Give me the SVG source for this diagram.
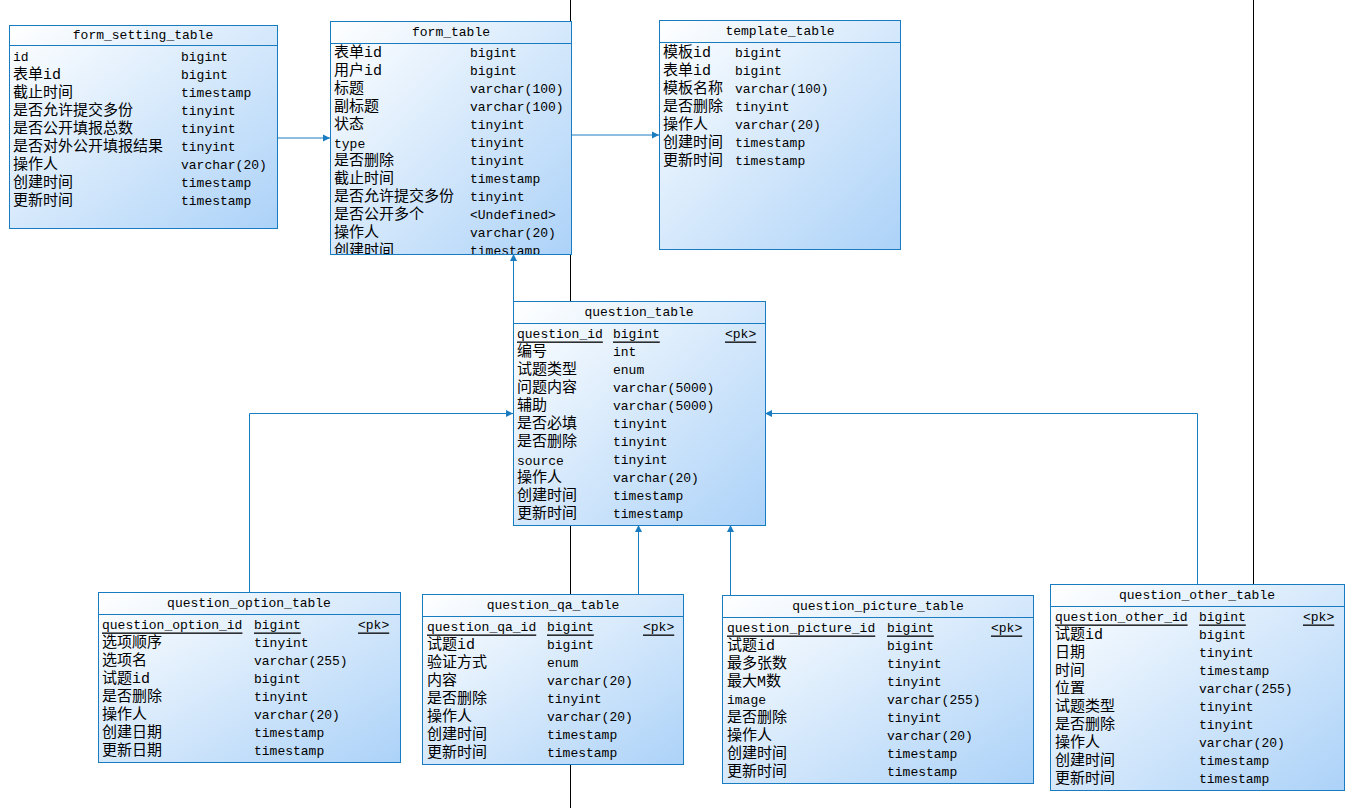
<svg xmlns="http://www.w3.org/2000/svg" width="1365" height="808" viewBox="0 0 1365 808">
<style>
.t{fill:url(#g);stroke:#1a7cc0;stroke-width:1}
.s{stroke:#1a7cc0;stroke-width:1}
text{font-family:"Liberation Mono","Noto Sans CJK SC",monospace;font-size:13px;fill:#000;dominant-baseline:central}
.c{font-size:15px}
.h{text-anchor:middle}
.u{text-decoration:underline}
.e{stroke:#1a7cc0;stroke-width:1;fill:none;marker-end:url(#a)}
</style>
<defs>
<linearGradient id="g" x1="0" y1="0" x2="1" y2="1"><stop offset="0" stop-color="#ffffff"/><stop offset="1" stop-color="#acd2f8"/></linearGradient>
<marker id="a" viewBox="0 0 10 10" refX="10" refY="5" markerWidth="7" markerHeight="9" orient="auto" markerUnits="userSpaceOnUse"><path d="M0,0L10,5L0,10z" fill="#1a7cc0"/></marker>
<clipPath id="cf"><rect x="330" y="21" width="241" height="233"/></clipPath>
</defs>
<rect width="1365" height="808" fill="#fff"/>
<g id="bg-lines" stroke="#000">
<line x1="570.5" y1="0" x2="570.5" y2="808"/>
<line x1="1253.5" y1="0" x2="1253.5" y2="584"/>
</g>
<g id="connectors">
<path class="e" d="M277,138H330"/>
<path class="e" d="M571,135H659"/>
<path class="e" d="M513.5,301V254"/>
<path class="e" d="M249.5,592V413.5H513"/>
<path class="e" d="M638.5,594V525"/>
<path class="e" d="M730.5,595V525"/>
<path class="e" d="M1197.5,584V413.5H765"/>
</g>
<g id="form_setting_table">
<rect class="t" x="9.5" y="25.5" width="268" height="203"/><line class="s" x1="9.5" y1="45.5" x2="277.5" y2="45.5"/>
<text class="h" x="143" y="35">form_setting_table</text>
<text x="13" y="57">id</text><text x="181" y="57">bigint</text>
<text class="c" x="13" y="75">表单id</text><text x="181" y="75">bigint</text>
<text class="c" x="13" y="93">截止时间</text><text x="181" y="93">timestamp</text>
<text class="c" x="13" y="111">是否允许提交多份</text><text x="181" y="111">tinyint</text>
<text class="c" x="13" y="129">是否公开填报总数</text><text x="181" y="129">tinyint</text>
<text class="c" x="13" y="147">是否对外公开填报结果</text><text x="181" y="147">tinyint</text>
<text class="c" x="13" y="165">操作人</text><text x="181" y="165">varchar(20)</text>
<text class="c" x="13" y="183">创建时间</text><text x="181" y="183">timestamp</text>
<text class="c" x="13" y="201">更新时间</text><text x="181" y="201">timestamp</text>
</g>
<g id="form_table">
<rect class="t" x="330.5" y="21.5" width="241" height="233"/><line class="s" x1="330.5" y1="43.5" x2="571.5" y2="43.5"/>
<text class="h" x="451" y="32">form_table</text>
<g clip-path="url(#cf)">
<text class="c" x="334" y="53">表单id</text><text x="470" y="53">bigint</text>
<text class="c" x="334" y="71">用户id</text><text x="470" y="71">bigint</text>
<text class="c" x="334" y="89">标题</text><text x="470" y="89">varchar(100)</text>
<text class="c" x="334" y="107">副标题</text><text x="470" y="107">varchar(100)</text>
<text class="c" x="334" y="125">状态</text><text x="470" y="125">tinyint</text>
<text x="334" y="144">type</text><text x="470" y="143">tinyint</text>
<text class="c" x="334" y="161">是否删除</text><text x="470" y="161">tinyint</text>
<text class="c" x="334" y="179">截止时间</text><text x="470" y="179">timestamp</text>
<text class="c" x="334" y="197">是否允许提交多份</text><text x="470" y="197">tinyint</text>
<text class="c" x="334" y="215">是否公开多个</text><text x="470" y="215">&lt;Undefined&gt;</text>
<text class="c" x="334" y="233">操作人</text><text x="470" y="233">varchar(20)</text>
<text class="c" x="334" y="251">创建时间</text><text x="470" y="251">timestamp</text>
</g>
</g>
<g id="template_table">
<rect class="t" x="659.5" y="20.5" width="241" height="229"/><line class="s" x1="659.5" y1="42.5" x2="900.5" y2="42.5"/>
<text class="h" x="780" y="31">template_table</text>
<text class="c" x="663" y="53">模板id</text><text x="735" y="53">bigint</text>
<text class="c" x="663" y="71">表单id</text><text x="735" y="71">bigint</text>
<text class="c" x="663" y="89">模板名称</text><text x="735" y="89">varchar(100)</text>
<text class="c" x="663" y="107">是否删除</text><text x="735" y="107">tinyint</text>
<text class="c" x="663" y="125">操作人</text><text x="735" y="125">varchar(20)</text>
<text class="c" x="663" y="143">创建时间</text><text x="735" y="143">timestamp</text>
<text class="c" x="663" y="161">更新时间</text><text x="735" y="161">timestamp</text>
</g>
<g id="question_table">
<rect class="t" x="513.5" y="301.5" width="252" height="224"/><line class="s" x1="513.5" y1="323.5" x2="765.5" y2="323.5"/>
<text class="h" x="639" y="312">question_table</text>
<text class="u" x="517" y="334">question_id</text><text class="u" x="613" y="334">bigint</text><text class="u" x="725" y="334">&lt;pk&gt;</text>
<text class="c" x="517" y="352">编号</text><text x="613" y="352">int</text>
<text class="c" x="517" y="370">试题类型</text><text x="613" y="370">enum</text>
<text class="c" x="517" y="388">问题内容</text><text x="613" y="388">varchar(5000)</text>
<text class="c" x="517" y="406">辅助</text><text x="613" y="406">varchar(5000)</text>
<text class="c" x="517" y="424">是否必填</text><text x="613" y="424">tinyint</text>
<text class="c" x="517" y="442">是否删除</text><text x="613" y="442">tinyint</text>
<text x="517" y="461">source</text><text x="613" y="460">tinyint</text>
<text class="c" x="517" y="478">操作人</text><text x="613" y="478">varchar(20)</text>
<text class="c" x="517" y="496">创建时间</text><text x="613" y="496">timestamp</text>
<text class="c" x="517" y="514">更新时间</text><text x="613" y="514">timestamp</text>
</g>
<g id="question_option_table">
<rect class="t" x="98.5" y="592.5" width="302" height="170"/><line class="s" x1="98.5" y1="614.5" x2="400.5" y2="614.5"/>
<text class="h" x="249" y="603">question_option_table</text>
<text class="u" x="102" y="625">question_option_id</text><text class="u" x="254" y="625">bigint</text><text class="u" x="358" y="625">&lt;pk&gt;</text>
<text class="c" x="102" y="643">选项顺序</text><text x="254" y="643">tinyint</text>
<text class="c" x="102" y="661">选项名</text><text x="254" y="661">varchar(255)</text>
<text class="c" x="102" y="679">试题id</text><text x="254" y="679">bigint</text>
<text class="c" x="102" y="697">是否删除</text><text x="254" y="697">tinyint</text>
<text class="c" x="102" y="715">操作人</text><text x="254" y="715">varchar(20)</text>
<text class="c" x="102" y="733">创建日期</text><text x="254" y="733">timestamp</text>
<text class="c" x="102" y="751">更新日期</text><text x="254" y="751">timestamp</text>
</g>
<g id="question_qa_table">
<rect class="t" x="422.5" y="594.5" width="261" height="170"/><line class="s" x1="422.5" y1="616.5" x2="683.5" y2="616.5"/>
<text class="h" x="553" y="605">question_qa_table</text>
<text class="u" x="427" y="627">question_qa_id</text><text class="u" x="547" y="627">bigint</text><text class="u" x="643" y="627">&lt;pk&gt;</text>
<text class="c" x="427" y="645">试题id</text><text x="547" y="645">bigint</text>
<text class="c" x="427" y="663">验证方式</text><text x="547" y="663">enum</text>
<text class="c" x="427" y="681">内容</text><text x="547" y="681">varchar(20)</text>
<text class="c" x="427" y="699">是否删除</text><text x="547" y="699">tinyint</text>
<text class="c" x="427" y="717">操作人</text><text x="547" y="717">varchar(20)</text>
<text class="c" x="427" y="735">创建时间</text><text x="547" y="735">timestamp</text>
<text class="c" x="427" y="753">更新时间</text><text x="547" y="753">timestamp</text>
</g>
<g id="question_picture_table">
<rect class="t" x="722.5" y="595.5" width="311" height="188"/><line class="s" x1="722.5" y1="617.5" x2="1033.5" y2="617.5"/>
<text class="h" x="878" y="606">question_picture_table</text>
<text class="u" x="727" y="628">question_picture_id</text><text class="u" x="887" y="628">bigint</text><text class="u" x="991" y="628">&lt;pk&gt;</text>
<text class="c" x="727" y="646">试题id</text><text x="887" y="646">bigint</text>
<text class="c" x="727" y="664">最多张数</text><text x="887" y="664">tinyint</text>
<text class="c" x="727" y="682">最大M数</text><text x="887" y="682">tinyint</text>
<text x="727" y="700">image</text><text x="887" y="700">varchar(255)</text>
<text class="c" x="727" y="718">是否删除</text><text x="887" y="718">tinyint</text>
<text class="c" x="727" y="736">操作人</text><text x="887" y="736">varchar(20)</text>
<text class="c" x="727" y="754">创建时间</text><text x="887" y="754">timestamp</text>
<text class="c" x="727" y="772">更新时间</text><text x="887" y="772">timestamp</text>
</g>
<g id="question_other_table">
<rect class="t" x="1050.5" y="584.5" width="294" height="206"/><line class="s" x1="1050.5" y1="606.5" x2="1344.5" y2="606.5"/>
<text class="h" x="1197" y="595">question_other_table</text>
<text class="u" x="1055" y="617">question_other_id</text><text class="u" x="1199" y="617">bigint</text><text class="u" x="1303" y="617">&lt;pk&gt;</text>
<text class="c" x="1055" y="635">试题id</text><text x="1199" y="635">bigint</text>
<text class="c" x="1055" y="653">日期</text><text x="1199" y="653">tinyint</text>
<text class="c" x="1055" y="671">时间</text><text x="1199" y="671">timestamp</text>
<text class="c" x="1055" y="689">位置</text><text x="1199" y="689">varchar(255)</text>
<text class="c" x="1055" y="707">试题类型</text><text x="1199" y="707">tinyint</text>
<text class="c" x="1055" y="725">是否删除</text><text x="1199" y="725">tinyint</text>
<text class="c" x="1055" y="743">操作人</text><text x="1199" y="743">varchar(20)</text>
<text class="c" x="1055" y="761">创建时间</text><text x="1199" y="761">timestamp</text>
<text class="c" x="1055" y="779">更新时间</text><text x="1199" y="779">timestamp</text>
</g>
</svg>
